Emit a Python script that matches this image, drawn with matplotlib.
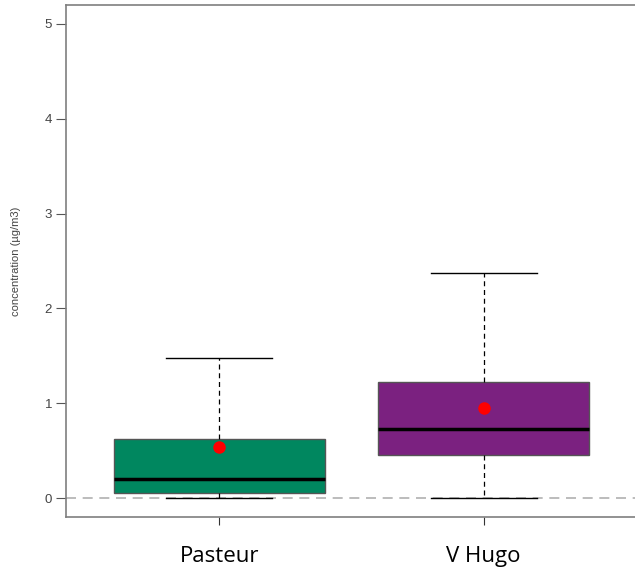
import matplotlib
matplotlib.use("Agg")
import matplotlib.pyplot as plt

# Box statistics (µg/m3)
sites = ["Pasteur", "V Hugo"]
whisker_low = [0.0, 0.0]
q1 = [0.053, 0.455]
median = [0.20, 0.726]
q3 = [0.624, 1.223]
whisker_high = [1.48, 2.375]
means = [0.54, 0.948]
box_colors = ["#00875F", "#7B2180"]


def build_stats():
    stats = []
    for i, name in enumerate(sites):
        stats.append({
            "label": name,
            "whislo": whisker_low[i],
            "q1": q1[i],
            "med": median[i],
            "q3": q3[i],
            "whishi": whisker_high[i],
            "mean": means[i],
            "fliers": [],
        })
    return stats


def main():
    fig = plt.figure(figsize=(6.35, 5.73), dpi=100)
    ax = fig.add_axes([66 / 635, 1 - 517 / 573, 571 / 635, 512 / 573])

    ax.axhline(0, color="#b0b0b0", lw=1.2, ls=(0, (6, 4)), zorder=0)

    bp = ax.bxp(build_stats(), positions=[1, 2], widths=0.8, patch_artist=True,
                showmeans=True, showfliers=False,
                boxprops=dict(edgecolor="#555555", linewidth=1),
                medianprops=dict(color="black", linewidth=2.5),
                whiskerprops=dict(color="black", linewidth=0.9, linestyle=(0, (4, 3))),
                capprops=dict(color="black", linewidth=1),
                meanprops=dict(marker="o", markerfacecolor="red", markeredgecolor="red",
                               markersize=8))
    for patch, c in zip(bp["boxes"], box_colors):
        patch.set_facecolor(c)
    for cap in bp["caps"]:
        x = cap.get_xdata()
        mid = (x[0] + x[1]) / 2
        cap.set_xdata([mid - 0.2, mid + 0.2])

    ax.set_xlim(0.42, 2.58)
    ax.set_ylim(-0.2, 5.2)
    ax.set_yticks([0, 1, 2, 3, 4, 5])
    ax.set_xticks([1, 2])
    ax.set_xticklabels(sites, fontsize=16, family="Open Sans", color="black")

    for s in ax.spines.values():
        s.set_color("#7f7f7f")
        s.set_linewidth(1.2)
    ax.tick_params(axis="y", length=7, width=0.8, color="#555555", labelcolor="#444444",
                   labelsize=9.5, pad=3)
    ax.tick_params(axis="x", length=6, width=0.8, color="#333333", pad=15)
    for lbl in ax.get_yticklabels():
        lbl.set_family("Liberation Sans")

    ax.set_ylabel("concentration (µg/m3)", fontsize=8, color="#444444",
                  family="Liberation Sans", labelpad=17)

    fig.savefig("out.png", dpi=100)


if __name__ == "__main__":
    main()
